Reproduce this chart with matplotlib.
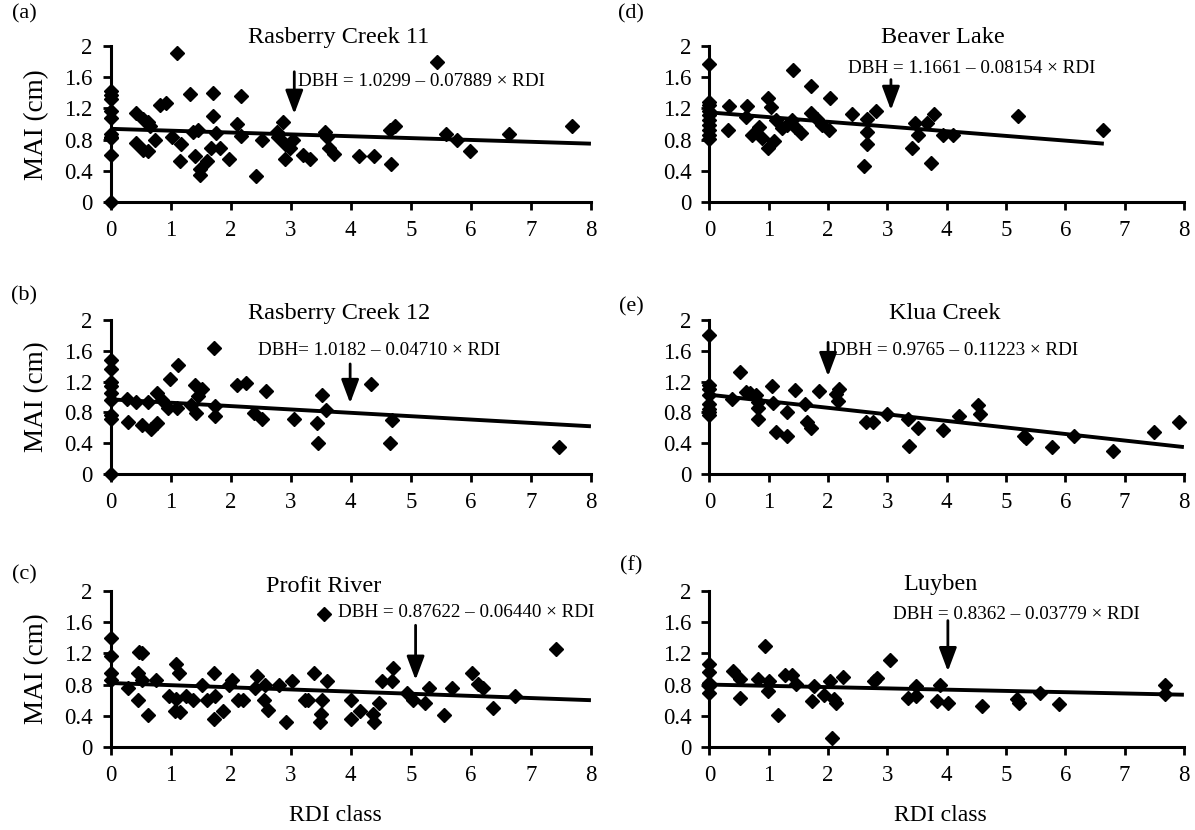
import matplotlib
matplotlib.use("Agg")
import matplotlib.pyplot as plt

plt.rcParams['font.family'] = ['Liberation Serif', 'DejaVu Serif']

# ---- data ----
# (a) Rasberry Creek 11
rdi_a = [0, 0, 0, 0, 0, 0, 0, 0, 0, 0,
         1.1, 5.43, 0.43, 0.54, 0.63, 0.66, 0.82, 0.93, 1.32, 1.71, 2.18, 1.70, 2.1, 2.87,
         0.43, 0.54, 0.63, 0.74, 1.02, 1.18, 1.16, 1.38, 1.46, 1.41, 1.49, 1.49, 1.6, 1.68,
         1.82, 1.76, 1.98, 2.18, 2.53, 2.43, 2.77, 2.79, 2.91, 2.99, 3.04, 2.91, 3.21, 3.32,
         3.57, 3.6, 3.64, 3.72, 4.13, 4.38, 4.67, 4.66, 4.74, 5.59, 5.77, 5.99, 6.63, 7.69]
mai_a = [1.42, 1.37, 1.32, 1.17, 1.08, 0.88, 0.84, 0.82, 0.6, 0.0,
         1.91, 1.80, 1.14, 1.07, 1.03, 0.97, 1.25, 1.27, 1.39, 1.40, 1.36, 1.10, 1.0, 1.03,
         0.76, 0.67, 0.65, 0.80, 0.83, 0.75, 0.53, 0.90, 0.93, 0.59, 0.43, 0.35, 0.53, 0.70,
         0.70, 0.89, 0.56, 0.85, 0.80, 0.33, 0.90, 0.84, 0.75, 0.69, 0.80, 0.56, 0.61, 0.56,
         0.90, 0.84, 0.69, 0.62, 0.59, 0.59, 0.49, 0.93, 0.97, 0.87, 0.80, 0.66, 0.87, 0.98]

# (b) Rasberry Creek 12
rdi_b = [0, 0, 0, 0, 0, 0, 0, 0, 0,
         0.28, 0.29, 0.42, 0.53, 0.62, 0.67, 0.78, 0.78, 0.86, 0.99, 0.96, 1.10, 1.12, 1.34,
         1.40, 1.42, 1.46, 1.53, 1.73, 1.74, 1.74, 2.10, 2.25, 2.39, 2.52, 2.59, 3.05, 3.44,
         3.45, 3.52, 3.59, 4.34, 4.68, 4.66, 7.47]
mai_b = [1.48, 1.37, 1.20, 1.14, 1.05, 0.96, 0.77, 0.72, 0.0,
         0.98, 0.67, 0.93, 0.64, 0.94, 0.59, 0.66, 1.05, 0.96, 1.24, 0.86, 0.86, 1.41, 0.90,
         1.16, 0.79, 1.01, 1.11, 1.64, 0.88, 0.75, 1.15, 1.18, 0.79, 0.72, 1.08, 0.72, 0.66,
         0.40, 1.03, 0.83, 1.17, 0.70, 0.40, 0.35]

# (c) Profit River
rdi_c = [0, 0, 0, 0,
         0.29, 0.46, 0.46, 0.48, 0.53, 0.53, 0.63, 0.75, 0.97, 1.09, 1.14, 1.09, 1.07, 1.16,
         1.25, 1.38, 1.52, 1.61, 1.73, 1.74, 1.73, 1.88, 1.97, 2.03, 2.13, 2.21, 2.44, 2.41,
         2.57, 2.55, 2.63, 2.80, 2.93, 3.03, 3.24, 3.29, 3.39, 3.52, 3.50, 3.49, 3.60, 3.56,
         4.0, 4.0, 4.15, 4.37, 4.39, 4.47, 4.52, 4.68, 4.71, 4.93, 5.04, 5.23, 5.30, 5.56,
         5.69, 6.02, 6.12, 6.20, 6.37, 6.73, 7.42]
mai_c = [1.40, 1.16, 0.95, 0.86,
         0.75, 0.60, 0.95, 1.22, 1.20, 0.86, 0.41, 0.86, 0.66, 1.06, 0.95, 0.62, 0.46, 0.45,
         0.66, 0.60, 0.80, 0.60, 0.95, 0.66, 0.36, 0.46, 0.80, 0.86, 0.60, 0.60, 0.91, 0.75,
         0.79, 0.60, 0.47, 0.80, 0.32, 0.84, 0.60, 0.60, 0.95, 0.60, 0.42, 0.32, 0.84, 1.70,
         0.60, 0.36, 0.46, 0.42, 0.32, 0.56, 0.84, 0.84, 1.01, 0.69, 0.60, 0.56, 0.76, 0.41,
         0.76, 0.95, 0.81, 0.75, 0.50, 0.66, 1.25]

# (d) Beaver Lake
rdi_d = [0, 0, 0, 0, 0, 0, 0, 0, 0, 0,
         0.33, 0.32, 0.64, 0.62, 0.72, 0.83, 0.89, 0.99, 1.03, 0.99, 1.09, 1.13, 1.23, 1.31,
         1.41, 1.40, 1.45, 1.55, 1.71, 1.71, 1.82, 1.89, 2.02, 2.03, 2.41, 2.61, 2.66, 2.66,
         2.66, 2.80, 3.41, 3.46, 3.51, 3.67, 3.73, 3.79, 3.94, 4.11, 5.2, 6.64]
mai_d = [1.77, 1.28, 1.24, 1.17, 1.12, 1.05, 0.99, 0.93, 0.86, 0.81,
         1.23, 0.93, 1.23, 1.09, 0.86, 0.96, 0.82, 1.33, 1.22, 0.69, 0.78, 1.05, 0.95, 0.99,
         1.69, 1.05, 0.96, 0.89, 1.49, 1.14, 1.07, 0.99, 0.93, 1.33, 1.13, 0.46, 1.07, 0.90,
         0.75, 1.17, 0.69, 1.01, 0.86, 1.01, 0.50, 1.13, 0.86, 0.86, 1.10, 0.93]

# (e) Klua Creek
rdi_e = [0, 0, 0, 0, 0, 0, 0, 0,
         0.38, 0.51, 0.62, 0.69, 0.78, 0.81, 0.81, 0.81, 1.06, 1.07, 1.13, 1.30, 1.31, 1.44,
         1.61, 1.65, 1.71, 1.84, 2.13, 2.18, 2.16, 2.64, 2.75, 3.0, 3.34, 3.37, 3.52, 3.93,
         4.2, 4.52, 4.56, 5.31, 5.34, 5.78, 6.15, 6.80, 7.5, 7.92]
mai_e = [1.81, 1.15, 1.10, 1.03, 0.91, 0.85, 0.81, 0.77,
         0.98, 1.32, 1.06, 1.05, 1.03, 0.93, 0.86, 0.72, 1.14, 0.92, 0.54, 0.80, 0.49, 1.09,
         0.91, 0.68, 0.60, 1.08, 1.04, 1.11, 0.95, 0.67, 0.67, 0.78, 0.72, 0.37, 0.60, 0.57,
         0.76, 0.89, 0.78, 0.49, 0.47, 0.35, 0.50, 0.30, 0.55, 0.68]

# (f) Luyben
rdi_f = [0, 0, 0, 0, 0,
         0.39, 0.52, 0.52, 0.81, 0.94, 1.0, 0.98, 1.15, 1.28, 1.39, 1.46, 1.73, 1.76, 1.93,
         2.04, 2.07, 2.1, 2.14, 2.25, 2.77, 2.83, 3.04, 3.35, 3.48, 3.49, 3.84, 3.89, 4.02,
         4.60, 5.19, 5.22, 5.58, 5.90, 7.68, 7.68]
mai_f = [1.07, 0.96, 0.82, 0.78, 0.69,
         0.98, 0.87, 0.63, 0.87, 1.30, 0.84, 0.72, 0.41, 0.92, 0.92, 0.81, 0.59, 0.78, 0.67,
         0.84, 0.11, 0.61, 0.56, 0.90, 0.84, 0.89, 1.12, 0.63, 0.78, 0.66, 0.59, 0.79, 0.56,
         0.53, 0.61, 0.56, 0.69, 0.55, 0.80, 0.68]

# trend lines as drawn (start x, start y, end x, end y)
fit_a = [0, 0.94, 8, 0.75]
fit_b = [0, 0.97, 8, 0.62]
fit_c = [0, 0.82, 8, 0.60]
fit_d = [0, 1.15, 6.65, 0.75]
fit_e = [0, 1.03, 8, 0.35]
fit_f = [0, 0.80, 8, 0.67]

letters = ['(a)', '(b)', '(c)', '(d)', '(e)', '(f)']
titles = ['Rasberry Creek 11', 'Rasberry Creek 12', 'Profit River',
          'Beaver Lake', 'Klua Creek', 'Luyben']
equations = ['DBH = 1.0299 – 0.07889 × RDI', 'DBH= 1.0182 – 0.04710 × RDI',
             'DBH = 0.87622 – 0.06440 × RDI', 'DBH = 1.1661 – 0.08154 × RDI',
             'DBH = 0.9765 – 0.11223 × RDI', 'DBH = 0.8362 – 0.03779 × RDI']
xs = [rdi_a, rdi_b, rdi_c, rdi_d, rdi_e, rdi_f]
ys = [mai_a, mai_b, mai_c, mai_d, mai_e, mai_f]
fits = [fit_a, fit_b, fit_c, fit_d, fit_e, fit_f]

x_ticks = [0, 1, 2, 3, 4, 5, 6, 7, 8]
y_ticks = [0, 0.4, 0.8, 1.2, 1.6, 2]
y_tick_labels = ['0', '0.4', '0.8', '1.2', '1.6', '2']

# ---- layout (annotation placement) ----
axes_rect = [[0.0925, 0.7563, 0.402, 0.1883],
             [0.0925, 0.4289, 0.402, 0.1855],
             [0.0925, 0.1000, 0.402, 0.1880],
             [0.5937, 0.7563, 0.397, 0.1883],
             [0.5937, 0.4289, 0.397, 0.1855],
             [0.5937, 0.1000, 0.397, 0.1880]]
title_pos = [(3.8, 2.11), (3.81, 2.09), (3.55, 2.06), (3.94, 2.11), (3.96, 2.08), (3.9, 2.08)]
eq_pos = [(3.12, 1.54), (2.45, 1.61), (3.78, 1.73), (2.33, 1.71), (2.07, 1.61), (3.09, 1.70)]
arrow_pos = [(3.06, 1.67, 1.13), (3.99, 1.43, 0.92), (5.08, 1.56, 0.86),
             (3.06, 1.57, 1.18), (2.0, 1.71, 1.27), (4.02, 1.62, 0.97)]
letter_pos = [(-0.18, 1.205), (-0.18, 1.16), (-0.18, 1.10),
              (-0.165, 1.205), (-0.165, 1.085), (-0.165, 1.16)]
xlabel_x = [0.467, 0.486]

fig = plt.figure(figsize=(11.95, 8.3), dpi=100)

for i in range(6):
    ax = fig.add_axes(axes_rect[i])
    ax.plot(xs[i], ys[i], linestyle='none', marker='D', markersize=6.8,
            color='black', clip_on=False, zorder=3)
    f = fits[i]
    ax.plot([f[0], f[2]], [f[1], f[3]], color='black', linewidth=2.8,
            solid_capstyle='butt', zorder=2)

    ax.set_xlim(0, 8)
    ax.set_ylim(0, 2)
    ax.set_xticks(x_ticks)
    ax.set_yticks(y_ticks)
    ax.set_yticklabels(y_tick_labels)
    ax.tick_params(direction='out', length=6, width=2, labelsize=16.5)
    ax.tick_params(axis='x', pad=7)
    ax.tick_params(axis='y', pad=7)
    for side in ['top', 'right']:
        ax.spines[side].set_visible(False)
    for side in ['left', 'bottom']:
        ax.spines[side].set_linewidth(2.2)

    ax.text(title_pos[i][0], title_pos[i][1], titles[i], ha='center', va='center',
            fontsize=17.5, clip_on=False)
    ax.text(eq_pos[i][0], eq_pos[i][1], equations[i], ha='left', va='center',
            fontsize=13.8, clip_on=False)
    ax_x, ax_top, ax_tip = arrow_pos[i]
    ax.annotate('', xy=(ax_x, ax_tip), xytext=(ax_x, ax_top),
                arrowprops=dict(arrowstyle='-|>,head_width=0.3,head_length=0.8',
                                lw=2, color='black', mutation_scale=18,
                                shrinkA=0, shrinkB=0))
    ax.text(letter_pos[i][0], letter_pos[i][1], letters[i], transform=ax.transAxes,
            ha='center', va='center', fontsize=16)

    if i < 3:
        ax.set_ylabel('MAI (cm)', fontsize=19.5)
        ax.yaxis.set_label_coords(-0.128, 0.5)
    if i in (2, 5):
        ax.set_xlabel('RDI class', fontsize=17)
        ax.xaxis.set_label_coords(xlabel_x[i // 3], -0.37)

fig.savefig('out.png', dpi=100)
